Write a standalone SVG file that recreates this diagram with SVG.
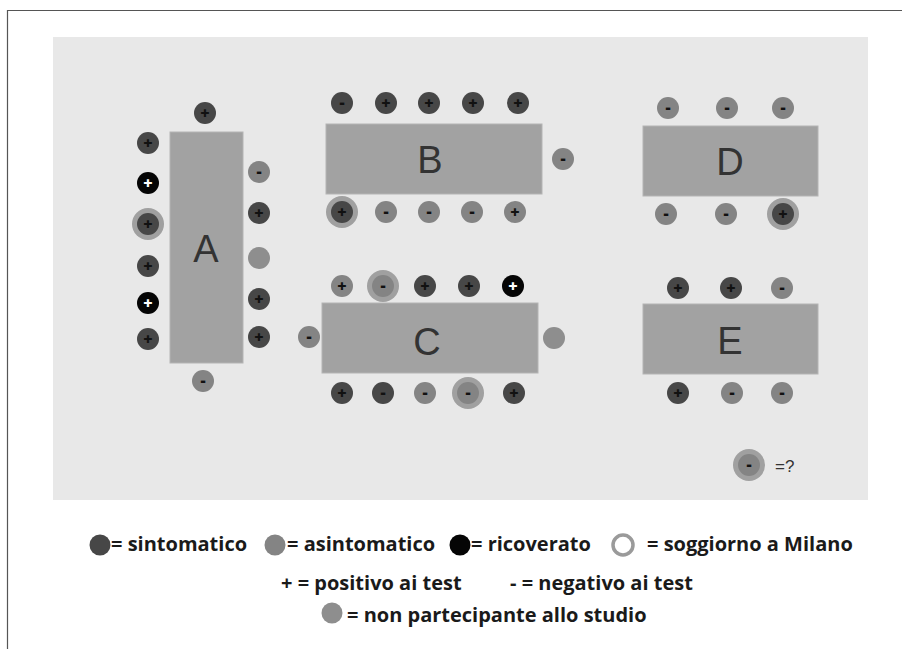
<svg xmlns="http://www.w3.org/2000/svg" xmlns:xlink="http://www.w3.org/1999/xlink" width="902" height="649" viewBox="0 0 902 649">
<style>
.tbl{fill:#a2a2a2;stroke:#b4b4b4;stroke-width:1}
.lbl{font-family:"Liberation Sans",Arial,sans-serif;font-size:38px;fill:#333;text-anchor:middle}
.sg{font-family:"Open Sans","DejaVu Sans",sans-serif;font-weight:800;font-size:16px;text-anchor:middle}
.leg{font-family:"Open Sans","DejaVu Sans",sans-serif;font-weight:bold;font-size:20px;fill:#1a1a1a}
.dk{fill:#474747}.gr{fill:#848484}.bk{fill:#050505}.np{fill:#8e8e8e}
.ring{fill:#a0a0a0}
</style>
<defs>
<g id="sp"><circle r="11" class="dk"/><text class="sg" y="5.5" fill="#111">+</text></g>
<g id="sm"><circle r="11" class="dk"/><text class="sg" y="5" fill="#111">-</text></g>
<g id="ap"><circle r="11" class="gr"/><text class="sg" y="5.5" fill="#111">+</text></g>
<g id="am"><circle r="11" class="gr"/><text class="sg" y="5" fill="#111">-</text></g>
<g id="rp"><circle r="11" class="bk"/><text class="sg" y="5.5" fill="#fff">+</text></g>
<g id="nn"><circle r="11" class="np"/></g>
<g id="rg"><circle r="16" class="ring"/></g>
</defs>
<rect x="0" y="0" width="902" height="649" fill="#fff"/>
<path d="M7.5 649V10.5H902" fill="none" stroke="#555" stroke-width="1.2"/>
<rect x="53" y="37" width="815" height="463" fill="#e8e8e8"/>
<g id="connectors"/>
<g id="tableA">
<rect class="tbl" x="170" y="132" width="73" height="231"/>
<text class="lbl" x="206" y="262">A</text>
<use href="#sp" x="205" y="113"/>
<use href="#sp" x="148" y="143"/>
<use href="#rp" x="148" y="183"/>
<use href="#rg" x="148" y="224"/><use href="#sp" x="148" y="224"/>
<use href="#sp" x="148" y="266"/>
<use href="#rp" x="148" y="303"/>
<use href="#sp" x="148" y="339"/>
<use href="#am" x="259" y="172"/>
<use href="#sp" x="259" y="213"/>
<use href="#nn" x="259" y="258"/>
<use href="#sp" x="259" y="299"/>
<use href="#sp" x="259" y="337"/>
<use href="#am" x="203" y="381"/>
</g>
<g id="tableB">
<rect class="tbl" x="326" y="124" width="216" height="70"/>
<text class="lbl" x="430" y="173">B</text>
<use href="#sm" x="342" y="103"/>
<use href="#sp" x="386" y="103"/>
<use href="#sp" x="429" y="103"/>
<use href="#sp" x="473" y="103"/>
<use href="#sp" x="518" y="103"/>
<use href="#am" x="563" y="159"/>
<use href="#rg" x="342" y="212"/><use href="#sp" x="342" y="212"/>
<use href="#am" x="386" y="212"/>
<use href="#am" x="429" y="212"/>
<use href="#am" x="472" y="212"/>
<use href="#ap" x="515" y="212"/>
</g>
<g id="tableC">
<rect class="tbl" x="322" y="303" width="216" height="70"/>
<text class="lbl" x="427" y="355">C</text>
<use href="#ap" x="342" y="286"/>
<use href="#rg" x="383" y="286"/><use href="#am" x="383" y="286"/>
<use href="#sp" x="425" y="286"/>
<use href="#sp" x="469" y="286"/>
<use href="#rp" x="513" y="286"/>
<use href="#am" x="309" y="337"/>
<use href="#nn" x="554" y="338"/>
<use href="#sp" x="342" y="393"/>
<use href="#sm" x="383" y="393"/>
<use href="#am" x="425" y="393"/>
<use href="#rg" x="468" y="393"/><use href="#am" x="468" y="393"/>
<use href="#sp" x="514" y="393"/>
</g>
<g id="tableD">
<rect class="tbl" x="643" y="126" width="175" height="70"/>
<text class="lbl" x="730" y="175">D</text>
<use href="#am" x="668" y="108"/>
<use href="#am" x="727" y="108"/>
<use href="#am" x="783" y="108"/>
<use href="#am" x="666" y="214"/>
<use href="#am" x="726" y="214"/>
<use href="#rg" x="783" y="214"/><use href="#sp" x="783" y="214"/>
</g>
<g id="tableE">
<rect class="tbl" x="643" y="304" width="175" height="70"/>
<text class="lbl" x="730" y="354">E</text>
<use href="#sp" x="678" y="288"/>
<use href="#sp" x="731" y="288"/>
<use href="#am" x="782" y="288"/>
<use href="#sp" x="678" y="393"/>
<use href="#am" x="732" y="393"/>
<use href="#am" x="782" y="393"/>
</g>
<g id="unknown">
<use href="#rg" x="749" y="465"/><use href="#am" x="749" y="465"/>
<text x="775" y="472" font-family="'Liberation Sans',Arial,sans-serif" font-size="17" fill="#333">=?</text>
</g>
<g id="legend">
<circle cx="100" cy="545" r="10.5" class="dk"/>
<text class="leg" x="111" y="551">= sintomatico</text>
<circle cx="275" cy="545" r="10.5" class="gr"/>
<text class="leg" x="287" y="551">= asintomatico</text>
<circle cx="460" cy="545" r="10.5" class="bk"/>
<text class="leg" x="471" y="551">= ricoverato</text>
<circle cx="623" cy="545" r="10" fill="none" stroke="#9a9a9a" stroke-width="3.5"/>
<text class="leg" x="647" y="551">= soggiorno a Milano</text>
<text class="leg" x="281" y="590">+ = positivo ai test</text>
<text class="leg" x="510" y="590">- = negativo ai test</text>
<circle cx="332" cy="613" r="10.5" class="np"/>
<text class="leg" x="347" y="622">= non partecipante allo studio</text>
</g>
</svg>
